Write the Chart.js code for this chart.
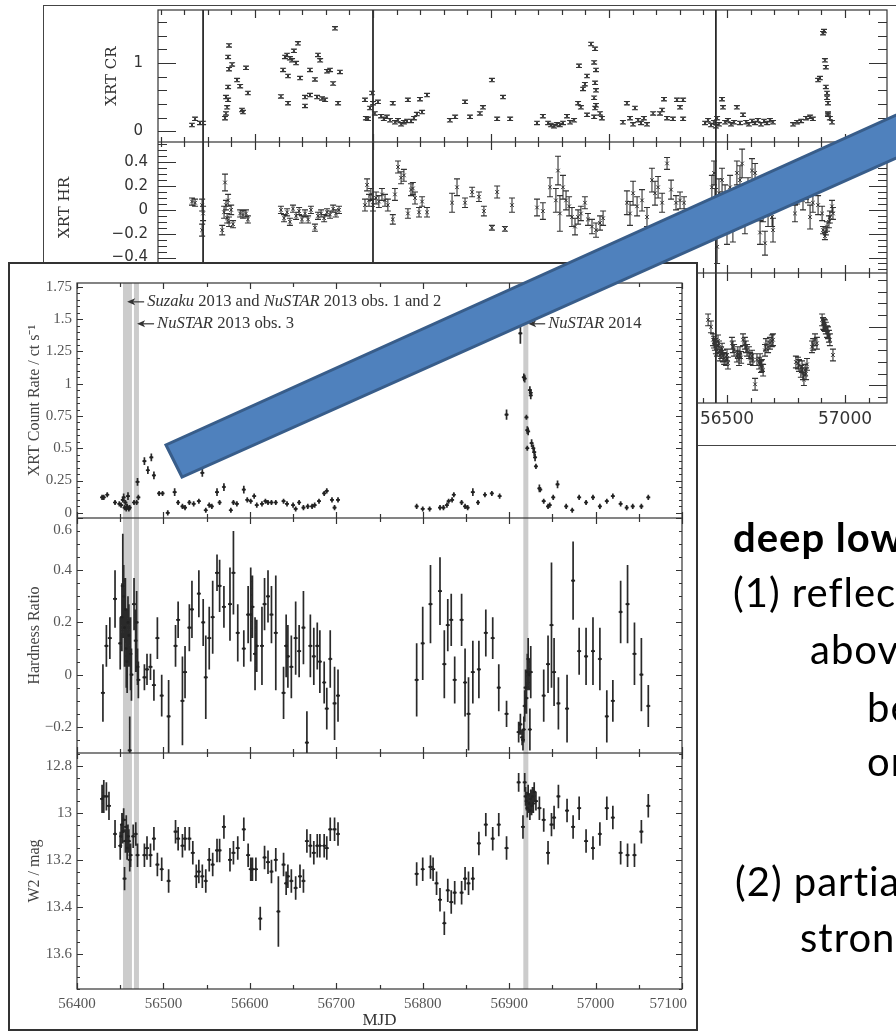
<!DOCTYPE html>
<html>
<head>
<meta charset="utf-8">
<script src="https://cdn.jsdelivr.net/npm/chart.js@4.4.1/dist/chart.umd.min.js"></script>
<style>
  html, body { margin:0; padding:0; background:#fff; }
  body { position:relative; width:896px; height:1031px; overflow:hidden; }
  canvas, .box, .txt { position:absolute; }
  #bgBox { left:43px; top:5px; width:880px; height:441px; border:1.5px solid #444; box-sizing:border-box; }
  #frontBox { left:8px; top:262px; width:690px; height:769px; border:2px solid #333; background:#fff; box-sizing:border-box; }
  .txt { font-family: Lato, 'Open Sans', sans-serif; font-size:40px; line-height:1.2; letter-spacing:1px; color:#000; white-space:nowrap; }
</style>
</head>
<body>
<div class="box" id="bgBox"></div>
<canvas id="bg1" width="853" height="137" style="left:43px;top:5px"></canvas>
<canvas id="bg2" width="853" height="131" style="left:43px;top:142px"></canvas>
<canvas id="bg3" width="853" height="172" style="left:43px;top:273px"></canvas>
<div class="box" id="frontBox"></div>
<canvas id="f1" width="689" height="256" style="left:8px;top:262px"></canvas>
<canvas id="f2" width="689" height="235" style="left:8px;top:518px"></canvas>
<canvas id="f3" width="689" height="278" style="left:8px;top:753px"></canvas>
<canvas id="arrow" width="896" height="1031" style="left:0;top:0"></canvas>
<div class="txt" style="left:733px;top:513px;font-weight:bold">deep low</div>
<div class="txt" style="left:733px;top:568px">(1) reflection</div>
<div class="txt" style="left:810px;top:625px">above</div>
<div class="txt" style="left:867px;top:683px">be</div>
<div class="txt" style="left:867px;top:737px">on</div>
<div class="txt" style="left:735px;top:857px">(2) partial</div>
<div class="txt" style="left:800px;top:913px">strong</div>
<script>
// front figure: [MJD, value, error]
var frontCr = [[56429,0.12,0.02],[56431,0.12,0.02],[56435,0.14,0.02],[56444,0.08,0.02],[56449,0.07,0.02],[56451,0.06,0.02],[56453,0.10,0.02],[56454,0.12,0.03],[56455,0.04,0.02],[56456,0.08,0.02],[56457,0.03,0.02],[56458,0.05,0.02],[56459,0.13,0.03],[56460,0.03,0.02],[56461,0.04,0.02],[56466,0.08,0.02],[56469,0.08,0.02],[56470,0.24,0.03],[56471,0.12,0.02],[56478,0.40,0.03],[56482,0.33,0.03],[56486,0.43,0.03],[56489,0.29,0.03],[56495,0.15,0.02],[56499,0.15,0.02],[56505,0.00,0.02],[56513,0.16,0.03],[56517,0.08,0.02],[56522,0.05,0.02],[56525,0.04,0.02],[56530,0.08,0.02],[56535,0.07,0.02],[56541,0.09,0.02],[56545,0.31,0.03],[56549,0.02,0.02],[56553,0.06,0.02],[56556,0.05,0.02],[56562,0.16,0.03],[56565,0.08,0.02],[56570,0.20,0.03],[56578,0.02,0.02],[56581,0.08,0.02],[56585,0.07,0.02],[56593,0.18,0.03],[56597,0.10,0.02],[56601,0.09,0.02],[56605,0.13,0.02],[56608,0.06,0.02],[56614,0.07,0.02],[56618,0.09,0.02],[56621,0.08,0.02],[56625,0.08,0.02],[56630,0.08,0.02],[56639,0.09,0.02],[56643,0.07,0.02],[56650,0.06,0.02],[56653,0.03,0.02],[56657,0.08,0.02],[56662,0.04,0.02],[56667,0.05,0.02],[56672,0.05,0.02],[56675,0.06,0.02],[56680,0.09,0.02],[56686,0.15,0.02],[56689,0.17,0.02],[56695,0.10,0.02],[56698,0.04,0.02],[56702,0.10,0.02],
  [56793,0.05,0.02],[56800,0.03,0.02],[56808,0.03,0.02],[56820,0.04,0.02],[56824,0.04,0.02],[56828,0.06,0.02],[56830,0.09,0.02],[56834,0.10,0.02],[56836,0.14,0.02],[56845,0.08,0.02],[56849,0.05,0.02],[56852,0.04,0.02],[56858,0.16,0.03],[56864,0.08,0.02],[56872,0.14,0.02],[56880,0.15,0.02],[56889,0.13,0.02],[56897,0.76,0.04],[56913,1.39,0.08],[56917,1.05,0.03],[56918,1.04,0.03],[56920,0.74,0.02],[56921,0.64,0.03],[56921,0.50,0.02],[56922,0.63,0.03],[56924,0.95,0.03],[56925,0.91,0.03],[56925,0.93,0.03],[56926,0.54,0.03],[56928,0.50,0.03],[56929,0.47,0.03],[56930,0.43,0.03],[56931,0.36,0.02],[56935,0.19,0.03],[56936,0.18,0.02],[56940,0.09,0.02],[56945,0.05,0.02],[56947,0.06,0.02],[56951,0.12,0.02],[56956,0.22,0.03],[56966,0.05,0.02],[56973,0.02,0.02],[56981,0.12,0.02],[56989,0.08,0.02],[56997,0.12,0.02],[57005,0.05,0.02],[57013,0.09,0.02],[57020,0.13,0.02],[57029,0.07,0.02],[57036,0.04,0.02],[57043,0.05,0.02],[57053,0.05,0.02],[57061,0.12,0.02]];

var frontHr = [[56430,-0.07,0.11],[56434,0.11,0.08],[56438,0.14,0.08],[56444,0.29,0.11],[56450,0.12,0.10],[56452,0.22,0.13],[56453,0.34,0.20],[56454,0.30,0.12],[56455,0.18,0.15],[56456,0.25,0.12],[56457,0.10,0.15],[56458,0.05,0.12],[56459,0.20,0.10],[56460,0.15,0.12],[56461,-0.29,0.13],[56462,0.08,0.14],[56463,0.00,0.10],[56466,0.27,0.10],[56468,0.13,0.12],[56469,0.20,0.12],[56470,0.03,0.07],[56471,-0.02,0.07],[56478,-0.01,0.05],[56481,0.02,0.06],[56485,0.03,0.05],[56489,-0.04,0.06],[56493,0.14,0.08],[56498,-0.08,0.08],[56506,-0.16,0.14],[56514,0.11,0.08],[56517,0.21,0.07],[56522,-0.10,0.17],[56525,0.01,0.10],[56530,0.18,0.09],[56533,0.25,0.11],[56541,0.31,0.09],[56546,0.20,0.09],[56549,-0.01,0.16],[56553,0.14,0.12],[56557,0.22,0.14],[56562,0.39,0.07],[56565,0.34,0.10],[56570,0.26,0.08],[56577,0.27,0.14],[56581,0.39,0.16],[56586,0.16,0.11],[56593,0.10,0.07],[56598,0.23,0.11],[56601,0.23,0.18],[56603,0.26,0.12],[56606,0.08,0.14],[56608,0.11,0.10],[56614,0.11,0.15],[56617,0.27,0.10],[56621,0.30,0.10],[56625,0.23,0.11],[56630,0.16,0.22],[56639,-0.07,0.10],[56642,0.11,0.12],[56644,0.07,0.12],[56648,0.03,0.12],[56653,0.14,0.14],[56657,0.09,0.10],[56662,0.18,0.14],[56666,-0.26,0.12],[56670,0.11,0.12],[56674,0.07,0.11],[56678,0.11,0.09],[56681,0.05,0.12],[56686,-0.03,0.08],[56689,-0.13,0.08],[56693,0.06,0.11],[56698,-0.11,0.14],[56702,-0.08,0.10],
  [56793,-0.02,0.14],[56800,0.12,0.14],[56809,0.27,0.15],[56820,0.32,0.13],[56825,0.04,0.13],[56829,0.19,0.10],[56833,0.21,0.10],[56837,-0.02,0.09],[56845,0.21,0.10],[56849,-0.03,0.13],[56853,-0.15,0.14],[56858,0.01,0.12],[56865,0.02,0.11],[56873,0.16,0.09],[56881,0.14,0.08],[56888,-0.05,0.09],[56897,-0.15,0.05],[56911,-0.22,0.04],[56913,-0.19,0.04],[56915,-0.24,0.03],[56916,-0.25,0.04],[56917,-0.21,0.05],[56918,-0.12,0.06],[56919,-0.05,0.07],[56920,-0.09,0.06],[56921,0.01,0.07],[56922,0.06,0.08],[56923,0.00,0.06],[56924,-0.21,0.08],[56925,0.01,0.10],[56940,-0.08,0.10],[56945,0.04,0.11],[56949,0.19,0.24],[56952,0.01,0.13],[56957,-0.11,0.10],[56967,-0.13,0.13],[56974,0.36,0.15],[56981,0.09,0.09],[56989,0.07,0.11],[56997,0.09,0.13],[57005,0.06,0.12],[57013,-0.16,0.10],[57020,-0.10,0.08],[57029,0.24,0.12],[57037,0.27,0.15],[57045,0.08,0.12],[57053,0.00,0.14],[57061,-0.12,0.08]];

var frontW2 = [[56429,12.94,0.06],[56431,12.93,0.07],[56434,12.93,0.06],[56437,12.97,0.06],[56444,13.09,0.06],[56450,13.14,0.06],[56451,13.10,0.05],[56452,13.05,0.05],[56453,13.08,0.05],[56454,13.03,0.05],[56455,13.28,0.05],[56456,13.12,0.05],[56457,13.06,0.05],[56458,13.15,0.05],[56459,13.10,0.05],[56460,13.12,0.05],[56461,13.20,0.05],[56462,13.18,0.05],[56465,13.10,0.05],[56468,13.09,0.05],[56470,13.18,0.05],[56478,13.18,0.05],[56481,13.15,0.05],[56485,13.18,0.05],[56489,13.11,0.05],[56493,13.22,0.05],[56498,13.24,0.05],[56506,13.29,0.05],[56514,13.08,0.05],[56517,13.11,0.05],[56522,13.14,0.05],[56525,13.11,0.05],[56530,13.11,0.05],[56534,13.17,0.05],[56538,13.27,0.05],[56541,13.25,0.05],[56545,13.27,0.05],[56549,13.29,0.05],[56553,13.20,0.05],[56557,13.22,0.05],[56562,13.16,0.05],[56565,13.16,0.05],[56570,13.06,0.05],[56577,13.20,0.05],[56581,13.17,0.05],[56586,13.15,0.05],[56593,13.07,0.05],[56598,13.18,0.05],[56601,13.24,0.05],[56603,13.24,0.05],[56607,13.24,0.05],[56612,13.45,0.05],[56617,13.19,0.05],[56621,13.21,0.05],[56625,13.25,0.05],[56630,13.20,0.05],[56633,13.42,0.15],[56639,13.22,0.05],[56642,13.30,0.05],[56644,13.27,0.05],[56648,13.29,0.05],[56653,13.32,0.05],[56658,13.27,0.05],[56662,13.29,0.05],[56666,13.12,0.05],[56670,13.14,0.05],[56674,13.17,0.05],[56678,13.14,0.05],[56681,13.14,0.05],[56686,13.14,0.05],[56689,13.15,0.05],[56693,13.07,0.05],[56698,13.07,0.05],[56702,13.09,0.05],
  [56793,13.26,0.05],[56800,13.24,0.05],[56809,13.23,0.05],[56812,13.24,0.05],[56816,13.30,0.05],[56820,13.37,0.05],[56825,13.47,0.05],[56829,13.33,0.05],[56833,13.38,0.05],[56837,13.34,0.05],[56845,13.34,0.05],[56849,13.28,0.05],[56853,13.30,0.05],[56858,13.28,0.05],[56865,13.13,0.05],[56873,13.05,0.05],[56881,13.11,0.05],[56888,13.05,0.05],[56897,13.15,0.05],[56911,12.87,0.04],[56916,13.06,0.05],[56918,12.87,0.04],[56919,12.93,0.04],[56920,12.95,0.04],[56921,12.98,0.04],[56922,12.92,0.04],[56923,12.96,0.04],[56924,12.99,0.04],[56925,12.94,0.04],[56926,12.97,0.04],[56927,12.93,0.04],[56928,12.96,0.04],[56929,12.91,0.04],[56931,12.95,0.04],[56935,12.98,0.05],[56940,13.03,0.05],[56945,13.17,0.05],[56949,13.05,0.05],[56952,13.02,0.05],[56957,12.93,0.05],[56967,12.99,0.05],[56974,13.06,0.05],[56981,12.98,0.05],[56989,13.12,0.05],[56997,13.15,0.05],[57005,13.09,0.05],[57013,12.98,0.05],[57020,13.02,0.05],[57029,13.17,0.05],[57037,13.18,0.05],[57045,13.18,0.05],[57053,13.08,0.05],[57061,12.97,0.05]];

var obsBands = [[56453.2,56463.6],[56465.9,56471.7],[56916.4,56922.2]];
var frontXTicks = [56400,56500,56600,56700,56800,56900,57000,57100];
var crTicks = [0,0.25,0.5,0.75,1,1.25,1.5,1.75];
var hrTicks = [-0.2,0,0.2,0.4,0.6];
var w2Ticks = [12.8,13,13.2,13.4,13.6];

// background figure (long-term monitoring)
var bgCr = [[54233,0.09],[54246,0.18],[54267,0.12],[54280,0.12],[54373,0.19],[54377,0.26],[54382,0.35],[54386,0.46],[54377,0.50],[54386,0.65],[54390,0.91],[54386,1.09],[54390,1.26],[54403,0.98],[54424,0.75],[54437,0.66],[54445,0.31],[54449,0.28],[54462,0.93],[54470,0.56],[54610,0.51],[54619,0.90],[54627,1.09],[54636,1.12],[54648,1.07],[54657,1.04],[54665,1.18],[54674,1.00],[54682,1.29],[54640,0.81],[54640,0.41],[54691,0.78],[54712,0.37],[54712,0.50],[54733,0.90],[54733,0.53],[54754,0.76],[54763,0.50],[54767,1.12],[54776,1.04],[54784,0.48],[54797,0.46],[54805,0.88],[54818,0.90],[54831,0.70],[54839,1.51],[54852,0.41],[54860,0.87],[54966,0.46],[54970,0.19],[54979,0.18],[54987,0.34],[54996,0.56],[55000,0.41],[55008,0.26],[55021,0.43],[55034,0.22],[55046,0.18],[55059,0.21],[55072,0.16],[55084,0.41],[55093,0.13],[55106,0.16],[55119,0.10],[55131,0.13],[55144,0.15],[55148,0.46],[55161,0.15],[55174,0.19],[55186,0.25],[55199,0.47],[55208,0.28],[55229,0.53],[55326,0.16],[55348,0.21],[55390,0.43],[55411,0.21],[55453,0.26],[55466,0.35],[55504,0.75],[55526,0.18],[55551,0.50],[55581,0.18],[55695,0.12],[55720,0.22],[55742,0.12],[55754,0.09],[55767,0.07],[55780,0.10],[55792,0.09],[55805,0.12],[55822,0.22],[55835,0.13],[55852,0.16],[55869,0.41],[55873,0.96],[55881,0.35],[55890,0.62],[55898,0.69],[55907,0.81],[55907,0.24],[55924,1.28],[55941,1.21],[55937,1.01],[55945,0.90],[55941,0.71],[55945,0.60],[55937,0.49],[55945,0.38],[55941,0.34],[55937,0.21],[55962,0.26],[55970,0.19],[56059,0.13],[56076,0.41],[56089,0.19],[56102,0.10],[56110,0.34],[56123,0.16],[56136,0.12],[56148,0.19],[56161,0.10],[56187,0.26],[56216,0.26],[56225,0.31],[56233,0.47],[56246,0.19],[56271,0.18],[56288,0.46],[56301,0.35],[56314,0.46],[56314,0.18],[56407,0.12],[56420,0.16],[56432,0.09],[56445,0.13],[56453,0.07],[56458,0.19],[56466,0.10],[56479,0.47],[56483,0.35],[56492,0.13],[56504,0.16],[56517,0.10],[56530,0.13],[56542,0.35],[56555,0.12],[56568,0.24],[56581,0.13],[56593,0.10],[56606,0.15],[56619,0.12],[56631,0.16],[56644,0.10],[56657,0.15],[56670,0.12],[56682,0.16],[56695,0.13],[56780,0.10],[56797,0.13],[56814,0.15],[56835,0.19],[56852,0.21],[56864,0.18],[56886,0.75],[56894,0.78],[56907,1.44],[56911,1.47],[56915,1.04],[56919,0.94],[56919,0.65],[56924,0.56],[56924,0.49],[56928,0.41],[56928,0.26],[56936,0.19],[56945,0.13],[56928,0.24]];
var bgCrErr = 0.025;

var bgHr = [[54233,0.07,0.03],[54246,0.06,0.03],[54276,0.04,0.05],[54280,-0.03,0.06],[54276,-0.17,0.05],[54361,-0.17,0.04],[54373,0.23,0.07],[54369,-0.02,0.05],[54377,0.04,0.04],[54382,-0.07,0.04],[54386,0.08,0.05],[54390,-0.10,0.04],[54399,0.00,0.04],[54407,-0.12,0.03],[54437,-0.03,0.03],[54449,-0.04,0.03],[54462,-0.03,0.03],[54470,-0.08,0.03],[54610,0.00,0.03],[54623,-0.07,0.03],[54636,-0.02,0.03],[54648,-0.10,0.03],[54661,0.01,0.03],[54674,-0.05,0.03],[54687,-0.01,0.03],[54699,-0.08,0.03],[54712,-0.03,0.03],[54725,-0.08,0.03],[54737,0.00,0.03],[54754,-0.15,0.03],[54767,-0.05,0.03],[54780,-0.03,0.03],[54793,-0.07,0.03],[54805,-0.02,0.03],[54818,-0.04,0.03],[54831,0.01,0.03],[54843,-0.03,0.03],[54856,0.00,0.03],[54966,0.04,0.05],[54975,0.21,0.05],[54983,0.08,0.05],[54991,0.13,0.05],[55000,0.04,0.05],[55013,0.10,0.05],[55025,0.07,0.05],[55038,0.13,0.05],[55051,0.08,0.05],[55063,0.04,0.05],[55084,-0.08,0.04],[55093,0.13,0.05],[55106,0.36,0.05],[55119,0.27,0.05],[55131,0.29,0.05],[55148,-0.03,0.04],[55161,0.17,0.05],[55169,0.18,0.05],[55178,0.10,0.05],[55195,-0.02,0.04],[55208,0.07,0.04],[55229,-0.02,0.04],[55335,0.06,0.08],[55356,0.19,0.07],[55390,0.06,0.04],[55420,0.15,0.04],[55449,0.11,0.04],[55470,-0.01,0.04],[55504,-0.15,0.02],[55526,0.15,0.05],[55559,-0.16,0.02],[55589,0.04,0.06],[55695,0.02,0.07],[55720,-0.01,0.07],[55750,0.19,0.08],[55775,0.08,0.10],[55784,0.33,0.12],[55792,-0.03,0.15],[55805,0.19,0.10],[55818,0.08,0.08],[55831,0.03,0.08],[55843,-0.06,0.08],[55856,-0.14,0.07],[55869,-0.06,0.06],[55881,-0.03,0.06],[55898,0.06,0.05],[55911,-0.08,0.05],[55928,-0.14,0.06],[55945,-0.17,0.06],[55962,-0.11,0.06],[55975,-0.07,0.06],[56076,0.06,0.10],[56089,-0.03,0.10],[56102,0.14,0.10],[56119,0.03,0.08],[56140,0.08,0.09],[56161,-0.06,0.08],[56182,0.25,0.10],[56195,0.14,0.10],[56208,0.19,0.09],[56225,0.06,0.08],[56246,0.39,0.05],[56263,0.17,0.08],[56284,0.06,0.06],[56301,0.08,0.07],[56318,0.06,0.05],[56436,0.19,0.10],[56445,0.31,0.10],[56449,0.08,0.10],[56458,-0.31,0.14],[56466,0.14,0.12],[56479,0.25,0.10],[56492,0.11,0.10],[56500,-0.19,0.10],[56513,0.19,0.10],[56525,-0.17,0.10],[56542,0.31,0.10],[56555,0.25,0.12],[56564,0.39,0.12],[56576,-0.08,0.12],[56589,0.17,0.10],[56606,0.33,0.10],[56619,0.31,0.08],[56631,0.08,0.10],[56640,-0.19,0.10],[56653,0.00,0.10],[56661,-0.28,0.10],[56674,-0.04,0.10],[56691,-0.06,0.08],[56695,-0.17,0.10],[56788,-0.03,0.07],[56797,0.13,0.08],[56809,0.22,0.08],[56822,0.08,0.08],[56835,0.17,0.08],[56843,0.14,0.08],[56852,-0.06,0.10],[56864,0.06,0.08],[56886,0.04,0.08],[56903,-0.03,0.06],[56907,-0.17,0.03],[56915,-0.22,0.03],[56919,-0.18,0.03],[56924,-0.14,0.04],[56932,-0.10,0.05],[56936,-0.06,0.05],[56945,0.03,0.05],[56949,-0.03,0.05]];

var bgW2 = [[56420,12.94],[56432,13.00],[56441,13.11],[56445,13.13],[56449,13.15],[56453,13.18],[56458,13.20],[56462,13.12],[56466,13.17],[56470,13.24],[56475,13.22],[56479,13.19],[56483,13.25],[56488,13.27],[56496,13.28],[56500,13.24],[56504,13.31],[56521,13.14],[56525,13.17],[56530,13.20],[56542,13.25],[56546,13.22],[56551,13.28],[56555,13.22],[56560,13.26],[56568,13.11],[56576,13.14],[56580,13.17],[56585,13.20],[56593,13.22],[56598,13.27],[56606,13.25],[56610,13.28],[56619,13.49],[56627,13.28],[56636,13.31],[56640,13.28],[56644,13.34],[56648,13.33],[56653,13.37],[56661,13.20],[56665,13.15],[56674,13.17],[56682,13.14],[56690,13.12],[56695,13.11],[56792,13.30],[56801,13.31],[56805,13.33],[56813,13.38],[56818,13.34],[56822,13.40],[56826,13.45],[56831,13.37],[56835,13.40],[56839,13.32],[56860,13.17],[56865,13.15],[56873,13.11],[56881,13.14],[56903,12.94],[56907,12.97],[56911,12.98],[56915,12.99],[56919,13.01],[56924,13.04],[56928,13.05],[56932,13.08],[56936,13.11],[56949,13.24]];
var bgW2Err = 0.05;
var bgLines = [54280, 55000, 56453];
var bgXTicks = [54500, 55000, 55500, 56000, 56500, 57000];
var bgCrTicks = [0, 1];
var bgHrTicks = [-0.4, -0.2, 0, 0.2, 0.4];

// ---------- helpers ----------
function steps(min, max, step) {
  var out = [];
  for (var k = Math.ceil(min / step - 1e-9); k * step <= max + 1e-9; k++) out.push(k * step);
  return out;
}
function isMult(v, step) { var r = v / step; return Math.abs(r - Math.round(r)) < 1e-6; }
function fmt(v) { return v < 0 ? '\u2212' + Math.abs(v) : String(v); }
function fixW(w) { return function(s) { s.width = w; s.paddingTop = 0; s.paddingBottom = 0; }; }
function fixH(h) { return function(s) { s.height = h; s.paddingLeft = 0; s.paddingRight = 0; }; }
function useTicks(list) { return function(s) { s.ticks = list.map(function(v) { return {value: v}; }); }; }

var frameTicks = {
  id: 'frameTicks',
  afterDatasetsDraw: function(chart, args, o) {
    var ctx = chart.ctx, a = chart.chartArea, x = chart.scales.x, y = chart.scales.y;
    ctx.save();
    ctx.strokeStyle = o.color; ctx.lineWidth = o.width;
    ctx.beginPath();
    steps(x.min, x.max, o.xMinor).forEach(function(v) {
      var px = Math.round(x.getPixelForValue(v)) + 0.5;
      var len = isMult(v, o.xMajor) ? o.xLen[0] : o.xLen[1];
      ctx.moveTo(px, a.top); ctx.lineTo(px, a.top + len);
      ctx.moveTo(px, a.bottom); ctx.lineTo(px, a.bottom - len);
    });
    steps(y.min, y.max, o.yMinor).forEach(function(v) {
      var py = Math.round(y.getPixelForValue(v)) + 0.5;
      var len = isMult(v, o.yMajor) ? o.yLen[0] : o.yLen[1];
      ctx.moveTo(a.left, py); ctx.lineTo(a.left + len, py);
      ctx.moveTo(a.right, py); ctx.lineTo(a.right - len, py);
    });
    ctx.stroke();
    ctx.strokeRect(a.left, a.top, a.width, a.height);
    ctx.restore();
  }
};

var errorBars = {
  id: 'errorBars',
  beforeDatasetsDraw: function(chart, args, o) {
    var ctx = chart.ctx, a = chart.chartArea, x = chart.scales.x, y = chart.scales.y;
    ctx.save();
    ctx.beginPath(); ctx.rect(a.left, a.top, a.width, a.height); ctx.clip();
    ctx.strokeStyle = o.color; ctx.lineWidth = o.width;
    ctx.beginPath();
    chart.data.datasets.forEach(function(ds) {
      ds.data.forEach(function(p) {
        var px = x.getPixelForValue(p.x), py = y.getPixelForValue(p.y);
        var y1 = y.getPixelForValue(p.y - p.e), y2 = y.getPixelForValue(p.y + p.e);
        ctx.moveTo(px, y1); ctx.lineTo(px, y2);
        if (o.cap) {
          ctx.moveTo(px - o.cap, y1); ctx.lineTo(px + o.cap, y1);
          ctx.moveTo(px - o.cap, y2); ctx.lineTo(px + o.cap, y2);
        }
        if (o.dash) { ctx.moveTo(px - o.dash, py); ctx.lineTo(px + o.dash, py); }
      });
    });
    ctx.stroke();
    ctx.restore();
  }
};

var bandsPlugin = {
  id: 'bands',
  beforeDatasetsDraw: function(chart, args, o) {
    var ctx = chart.ctx, a = chart.chartArea, x = chart.scales.x;
    ctx.save();
    o.list.forEach(function(b) {
      var p0 = x.getPixelForValue(b[0]), p1 = x.getPixelForValue(b[1]);
      if (o.fill) { ctx.fillStyle = o.fill; ctx.fillRect(p0, a.top, p1 - p0, a.height); }
      else {
        ctx.strokeStyle = o.line; ctx.lineWidth = o.width;
        ctx.beginPath(); ctx.moveTo(p0, a.top); ctx.lineTo(p0, a.bottom); ctx.stroke();
      }
    });
    ctx.restore();
  }
};

var notesPlugin = {
  id: 'notes',
  afterDatasetsDraw: function(chart, args, o) {
    if (!o.list) return;
    var ctx = chart.ctx, x = chart.scales.x, y = chart.scales.y;
    ctx.save();
    ctx.fillStyle = o.color; ctx.strokeStyle = o.color; ctx.lineWidth = 1.2;
    ctx.textBaseline = 'middle';
    o.list.forEach(function(n) {
      var tx = x.getPixelForValue(n.x), ty = y.getPixelForValue(n.y);
      ctx.beginPath(); ctx.moveTo(tx + 3, ty); ctx.lineTo(tx + 17, ty); ctx.stroke();
      ctx.beginPath(); ctx.moveTo(tx, ty); ctx.lineTo(tx + 8, ty - 3.5); ctx.lineTo(tx + 6, ty); ctx.lineTo(tx + 8, ty + 3.5); ctx.closePath(); ctx.fill();
      var cx = tx + 20;
      n.parts.forEach(function(p) {
        ctx.font = (p[1] ? 'italic ' : '') + o.size + 'px ' + o.family;
        ctx.fillText(p[0], cx, ty);
        cx += ctx.measureText(p[0]).width;
      });
    });
    ctx.restore();
  }
};

function toPts(list, err) {
  return list.map(function(r) { return {x: r[0], y: r[1], e: err === undefined ? r[2] : err}; });
}

var serif = 'Liberation Serif';

function frontPanel(id, pts, yo, extra) {
  var xDisp = !!extra.xLabels;
  return new Chart(document.getElementById(id), {
    type: 'scatter',
    data: { datasets: [{ data: pts, pointRadius: 1.4, pointBackgroundColor: '#222', pointBorderWidth: 0 }] },
    options: {
      responsive: false, animation: false, devicePixelRatio: 1, events: [],
      layout: { autoPadding: false, padding: { left: 0, right: 15, top: extra.top || 0, bottom: 0 } },
      scales: {
        x: {
          type: 'linear', min: 56400, max: 57100, bounds: 'data', display: xDisp,
          grid: { display: false, drawTicks: false }, border: { display: false },
          // the last label sits just inside the right frame, as in the paper figure
          afterBuildTicks: function(s) {
            s.ticks = frontXTicks.map(function(v) { return { value: Math.min(v, s.max - 16) }; });
          },
          afterFit: fixH(xDisp ? 42 : 0),
          ticks: { autoSkip: false, maxRotation: 0, padding: 6, color: '#555', font: { family: serif, size: 15 },
                   callback: function(v, i) { return String(frontXTicks[i]); } },
          title: { display: xDisp, text: 'MJD', color: '#333', font: { family: serif, size: 17 }, padding: { top: 0, bottom: 0 } }
        },
        y: {
          type: 'linear', min: yo.min, max: yo.max, reverse: !!yo.reverse, bounds: 'data',
          grid: { display: false, drawTicks: false }, border: { display: false },
          afterBuildTicks: function(s) {
            s.ticks = yo.ticks.map(function(v) { return { value: yo.shiftTop ? Math.min(v, s.max - yo.shiftTop) : v }; });
          },
          afterFit: fixW(69),
          ticks: { autoSkip: false, padding: 5, color: '#555', font: { family: serif, size: 15 },
                   callback: function(v, i) { return fmt(yo.ticks[i]); } },
          title: { display: true, text: yo.title, color: '#444', font: { family: serif, size: 16 }, padding: { top: 17, bottom: 0 } }
        }
      },
      plugins: {
        legend: { display: false }, tooltip: { enabled: false },
        errorBars: { color: '#2a2a2a', width: 1.7, dash: 2 },
        bands: { list: obsBands, fill: 'rgba(170,170,170,0.6)' },
        frameTicks: { color: '#333', width: 1.2, xMinor: 50, xMajor: 100, xLen: [6, 4], yMinor: 0.05, yMajor: yo.major, yLen: [6, 3] },
        notes: { list: extra.notes, color: '#333', size: 16.6, family: serif }
      }
    },
    plugins: [bandsPlugin, errorBars, frameTicks, notesPlugin]
  });
}

frontPanel('f1', toPts(frontCr), { min: -0.04, max: 1.78, ticks: crTicks, major: 0.25, title: 'XRT Count Rate / ct s\u207B\u00B9' }, {
  top: 21,
  notes: [
    { x: 56458, y: 1.634, parts: [['Suzaku', true], [' 2013 and ', false], ['NuSTAR', true], [' 2013 obs. 1 and 2', false]] },
    { x: 56469.5, y: 1.464, parts: [['NuSTAR', true], [' 2013 obs. 3', false]] },
    { x: 56922, y: 1.464, parts: [['NuSTAR', true], [' 2014', false]] }
  ]
});
frontPanel('f2', toPts(frontHr), { min: -0.3, max: 0.6, ticks: hrTicks, major: 0.2, shiftTop: 0.045, title: 'Hardness Ratio' }, {});
frontPanel('f3', toPts(frontW2), { min: 12.745, max: 13.75, reverse: true, ticks: w2Ticks, major: 0.2, title: 'W2 / mag' }, { xLabels: true });

// ---------- background figure ----------
var hershey = 'DejaVu Sans';
function bgPanel(id, pts, yo, extra) {
  var xDisp = !!extra.xLabels;
  return new Chart(document.getElementById(id), {
    type: 'scatter',
    data: { datasets: [{ data: pts, pointStyle: 'crossRot', pointRadius: 2.6, pointBorderColor: '#333', pointBorderWidth: 1, pointBackgroundColor: 'transparent' }] },
    options: {
      responsive: false, animation: false, devicePixelRatio: 1, events: [],
      layout: { autoPadding: false, padding: { left: 0, right: 9, top: extra.top || 0, bottom: 0 } },
      scales: {
        x: {
          type: 'linear', min: 54089, max: 57178, bounds: 'data', display: xDisp,
          grid: { display: false, drawTicks: false }, border: { display: false },
          afterBuildTicks: useTicks(bgXTicks), afterFit: fixH(xDisp ? 42 : 0),
          ticks: { autoSkip: false, maxRotation: 0, padding: 6, color: '#333', font: { family: hershey, size: 17 },
                   callback: function(v) { return String(v); } }
        },
        y: {
          type: 'linear', min: yo.min, max: yo.max, reverse: !!yo.reverse, bounds: 'data',
          grid: { display: false, drawTicks: false }, border: { display: false },
          afterBuildTicks: useTicks(yo.ticks), afterFit: fixW(115),
          ticks: { display: !!yo.ticks.length, autoSkip: false, padding: yo.pad || 10, color: '#333', font: { family: hershey, size: 15 },
                   callback: function(v, i) { return fmt(yo.ticks[i]); } },
          title: { display: !!yo.title, text: yo.title || '', color: '#333', font: { family: 'DejaVu Serif', size: 15 }, padding: { top: yo.titlePad || 0, bottom: 0 } }
        }
      },
      plugins: {
        legend: { display: false }, tooltip: { enabled: false },
        errorBars: { color: '#333', width: 1.1, cap: 3 },
        bands: { list: bgLines.map(function(m) { return [m, m]; }), line: '#111', width: 1.6 },
        frameTicks: { color: '#333', width: 1.2, xMinor: 100, xMajor: 500, xLen: [8, 5], yMinor: yo.minor, yMajor: yo.major, yLen: [18, 9] },
        notes: {}
      }
    },
    plugins: [bandsPlugin, errorBars, frameTicks]
  });
}

bgPanel('bg1', toPts(bgCr, bgCrErr), { min: -0.16, max: 1.78, ticks: bgCrTicks, minor: 0.2, major: 1, pad: 15, title: 'XRT CR', titlePad: 60 }, { top: 5 });
bgPanel('bg2', toPts(bgHr), { min: -0.53, max: 0.57, ticks: bgHrTicks, minor: 0.05, major: 0.2, pad: 10, title: 'XRT HR', titlePad: 13 }, {});
bgPanel('bg3', toPts(bgW2, bgW2Err), { min: 12.54, max: 13.65, reverse: true, ticks: [], minor: 0.1, major: 0.5 }, { xLabels: true });

// ---------- slide arrow shape ----------
(function() {
  var ctx = document.getElementById('arrow').getContext('2d');
  ctx.beginPath();
  ctx.moveTo(166, 445); ctx.lineTo(182, 477); ctx.lineTo(905, 154); ctx.lineTo(905, 111); ctx.closePath();
  ctx.fillStyle = '#4f81bd'; ctx.fill();
  ctx.lineWidth = 3; ctx.lineJoin = 'miter'; ctx.strokeStyle = '#385d8a'; ctx.stroke();
})();
</script>
</body>
</html>
